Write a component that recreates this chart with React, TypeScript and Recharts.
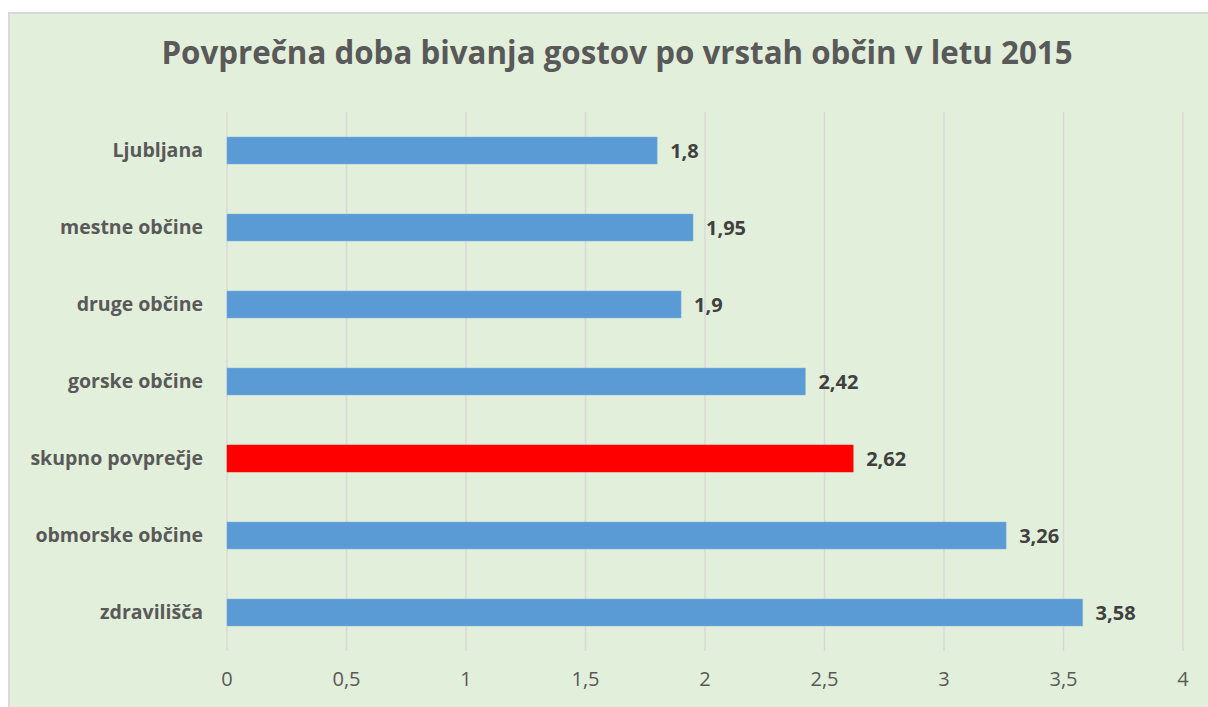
import { BarChart, Bar, XAxis, YAxis, CartesianGrid, Cell, LabelList } from 'recharts';

const categories = [
    'Ljubljana',
    'mestne občine',
    'druge občine',
    'gorske občine',
    'skupno povprečje',
    'obmorske občine',
    'zdravilišča',
];
const stayDays = [1.8, 1.95, 1.9, 2.42, 2.62, 3.26, 3.58];
const xTicks = [0, 0.5, 1, 1.5, 2, 2.5, 3, 3.5, 4];
const highlighted = 'skupno povprečje';

const chartData = categories.map((name, i) => ({ name, value: stayDays[i] }));

// decimal comma, as in the original
const fmt = (v: number) => String(v).replace('.', ',');

const FONT = '"Open Sans", "Noto Sans", sans-serif';

export default function App() {
    return (
        <div
            style={{
                position: 'absolute',
                left: 8,
                top: 12,
                width: 1200,
                height: 695,
                boxSizing: 'border-box',
                background: '#E2EFDA',
                borderTop: '2px solid #D9D9D9',
                borderLeft: '2px solid #D9D9D9',
                fontFamily: FONT,
            }}
        >
            <div
                style={{
                    position: 'absolute',
                    top: 19,
                    left: 8,
                    width: 1198,
                    textAlign: 'center',
                    fontSize: 31.3,
                    fontWeight: 700,
                    color: '#595959',
                    lineHeight: '38px',
                }}
            >
                Povprečna doba bivanja gostov po vrstah občin v letu 2015
            </div>
            <BarChart
                width={1198}
                height={693}
                data={chartData}
                layout="vertical"
                margin={{ top: 98, right: 25, bottom: 0, left: 0 }}
                barCategoryGap="32%"
            >
                <CartesianGrid horizontal={false} stroke="#D9D9D9" strokeWidth={1.5} />
                <XAxis
                    type="number"
                    domain={[0, 4]}
                    ticks={xTicks}
                    tickFormatter={fmt}
                    axisLine={false}
                    tickLine={false}
                    tickSize={0}
                    tickMargin={21}
                    height={56}
                    tick={{ fill: '#595959', fontSize: 20 }}
                />
                <YAxis
                    type="category"
                    dataKey="name"
                    width={217}
                    axisLine={false}
                    tickLine={false}
                    tickSize={0}
                    tickMargin={24}
                    tick={{ fill: '#595959', fontSize: 19.5, fontWeight: 700 }}
                />
                <Bar dataKey="value" barSize={27} isAnimationActive={false} stroke="#7FB0DF" strokeWidth={0.5}>
                    {chartData.map((d) => (
                        <Cell
                            key={d.name}
                            fill={d.name === highlighted ? '#FF0000' : '#5B9BD5'}
                            stroke={d.name === highlighted ? '#FF0000' : '#7FB0DF'}
                        />
                    ))}
                    <LabelList
                        dataKey="value"
                        position="right"
                        offset={13}
                        formatter={(v: any) => fmt(v)}
                        style={{ fill: '#404040', fontSize: 20, fontWeight: 700 }}
                    />
                </Bar>
            </BarChart>
        </div>
    );
}
